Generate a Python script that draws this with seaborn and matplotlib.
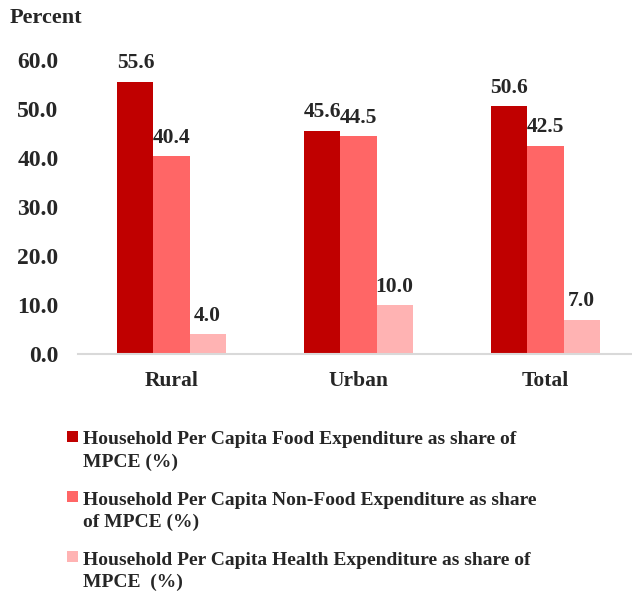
import numpy as np
import pandas as pd
import seaborn as sns
import matplotlib.pyplot as plt
from matplotlib.patches import Patch, Rectangle
from matplotlib.legend_handler import HandlerPatch

areas = ["Rural", "Urban", "Total"]
food_share = [55.6, 45.6, 50.6]
nonfood_share = [40.4, 44.5, 42.5]
health_share = [4.0, 10.0, 7.0]

series_names = [
    "Household Per Capita Food Expenditure as share of\nMPCE (%)",
    "Household Per Capita Non-Food Expenditure as share\nof MPCE (%)",
    "Household Per Capita Health Expenditure as share of\nMPCE  (%)",
]
colors = ["#C00000", "#FF6666", "#FFB3B3"]

rows = []
for name, vals in zip(series_names, [food_share, nonfood_share, health_share]):
    for a, v in zip(areas, vals):
        rows.append({"Area": a, "Share": v, "Series": name})
df = pd.DataFrame(rows)

sns.set_style("white")
plt.rcParams['font.family'] = ['Liberation Serif', 'DejaVu Serif']
plt.rcParams['font.weight'] = 'bold'

fig = plt.figure(figsize=(6.32, 5.97), dpi=100)
ax = fig.add_axes([78 / 632, (597 - 354) / 597, 561 / 632, 294 / 597])

sns.barplot(data=df, x="Area", y="Share", hue="Series", palette=colors,
            width=0.578, gap=0, saturation=1, linewidth=0, legend=False, ax=ax)

for c in ax.containers:
    ax.bar_label(c, fmt="%.1f", padding=6, fontsize=15.5, fontweight='bold')

ax.set_xlim(-0.5, 2.5)
ax.set_ylim(0, 60)
ax.set_yticks(np.arange(0, 61, 10))
ax.set_yticklabels([f"{t:.1f}" for t in np.arange(0, 61, 10)])
ax.set_xlabel("")
ax.set_ylabel("")
ax.tick_params(axis='both', length=0)
ax.tick_params(axis='y', pad=14, labelsize=17)
ax.tick_params(axis='x', pad=12, labelsize=15.5)
for lab in ax.get_xticklabels() + ax.get_yticklabels():
    lab.set_fontweight('bold')

for s in ["left", "right", "top"]:
    ax.spines[s].set_visible(False)
ax.spines["bottom"].set_color("#D9D9D9")
ax.spines["bottom"].set_linewidth(1.5)

fig.text(10 / 632, 1 - 18 / 597, "Percent", fontsize=16, fontweight='bold',
         va='center', ha='left')


# put the legend square next to the first line of each two-line label
def top_square(legend, orig_handle, xdescent, ydescent, width, height, fontsize):
    return Rectangle((-xdescent, -ydescent + 10.5), width, width)


handles = [Patch(facecolor=c, edgecolor='none') for c in colors]
leg = fig.legend(handles, series_names, loc='upper left',
                 bbox_to_anchor=(49 / 632, 1 - 414 / 597), frameon=False,
                 prop={'size': 14, 'weight': 'bold'}, handlelength=0.57,
                 handleheight=0.57, handletextpad=0.26, labelspacing=1.05,
                 handler_map={Patch: HandlerPatch(patch_func=top_square)})
for t in leg.get_texts():
    t.set_linespacing(1.4)

fig.savefig("out.png", dpi=100)
